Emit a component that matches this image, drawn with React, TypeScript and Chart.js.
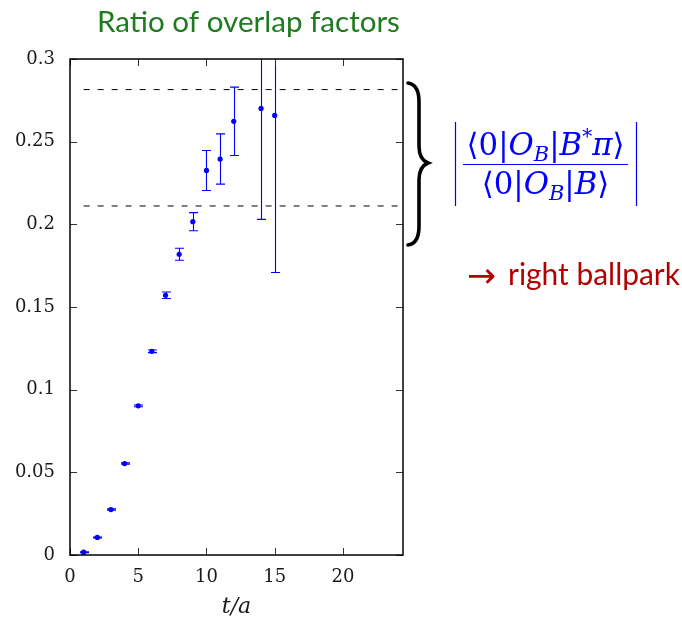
import React, { useEffect, useRef } from 'react';
import { Chart, registerables } from 'chart.js';

Chart.register(...registerables);

// ---- data ----
const tValues = [1, 2, 3, 4, 5, 6, 7, 8, 9, 10, 11, 12, 14, 15];
const ratioValues = [0.0017, 0.0106, 0.0275, 0.0553, 0.0902, 0.1232, 0.1571, 0.1819, 0.2016, 0.2326, 0.2395, 0.2623, 0.2701, 0.2659];
const ratioErrors = [0.0003, 0.0003, 0.0004, 0.0004, 0.0005, 0.0008, 0.002, 0.0036, 0.0055, 0.0121, 0.0152, 0.0207, 0.0671, 0.095];
const bandX = [1, 24];
const bandUpper = 0.2815;
const bandLower = 0.2111;
const xTicks = [0, 5, 10, 15, 20];
const yTicks = [0, 0.05, 0.1, 0.15, 0.2, 0.25, 0.3];
const xMin = 0;
const xMax = 24.4;
const yMin = 0;
const yMax = 0.3;
const titleText = 'Ratio of overlap factors';
const xAxisLabel = 't/a';
const noteArrow = '\u2192';
const noteText = 'right ballpark';

const BLUE = '#0000ff';
const GREEN = '#1e7b1e';
const RED = '#b30000';

function fitSize(ctx: CanvasRenderingContext2D, text: string, family: string, width: number, style = '') {
  ctx.font = `${style} 100px ${family}`;
  const w = ctx.measureText(text).width;
  return (100 * width) / w;
}

type Seg = { t: string; style: string; scale: number; dy: number; family: string };

function segsWidth(ctx: CanvasRenderingContext2D, segs: Seg[], base: number) {
  let w = 0;
  for (const s of segs) {
    ctx.font = `${s.style} ${base * s.scale}px ${s.family}`;
    w += ctx.measureText(s.t).width;
  }
  return w;
}

function drawSegs(ctx: CanvasRenderingContext2D, segs: Seg[], base: number, cx: number, baseline: number) {
  const w = segsWidth(ctx, segs, base);
  let x = cx - w / 2;
  ctx.textAlign = 'left';
  ctx.textBaseline = 'alphabetic';
  for (const s of segs) {
    ctx.font = `${s.style} ${base * s.scale}px ${s.family}`;
    ctx.fillText(s.t, x, baseline + s.dy * base);
    x += ctx.measureText(s.t).width;
  }
}

const SERIF = '"DejaVu Serif", serif';
const up = (t: string): Seg => ({ t, style: '', scale: 1, dy: 0, family: SERIF });
const it = (t: string): Seg => ({ t, style: 'italic', scale: 1, dy: 0, family: SERIF });
const sub = (t: string): Seg => ({ t, style: 'italic', scale: 0.68, dy: 0.18, family: SERIF });
const sup = (t: string): Seg => ({ t, style: '', scale: 0.65, dy: -0.38, family: SERIF });

const numerSegs: Seg[] = [up('\u27E80|'), it('O'), sub('B'), up('|'), it('B'), sup('*'), it('\u03C0'), up('\u27E9')];
const denomSegs: Seg[] = [up('\u27E80|'), it('O'), sub('B'), up('|'), it('B'), up('\u27E9')];

const overlayPlugin = {
  id: 'overlay',
  beforeDatasetsDraw(chart: any) {
    const { ctx, chartArea: a, scales } = chart;
    const x = scales.x;
    const y = scales.y;
    ctx.save();
    ctx.beginPath();
    ctx.rect(a.left, a.top, a.right - a.left, a.bottom - a.top);
    ctx.clip();
    ctx.strokeStyle = BLUE;
    ctx.lineWidth = 1.1;
    tValues.forEach((t, i) => {
      const px = Math.round(x.getPixelForValue(t)) + 0.5;
      const y1 = y.getPixelForValue(ratioValues[i] - ratioErrors[i]);
      const y2 = y.getPixelForValue(ratioValues[i] + ratioErrors[i]);
      ctx.beginPath();
      ctx.moveTo(px, y1);
      ctx.lineTo(px, y2);
      ctx.moveTo(px - 4.5, y1);
      ctx.lineTo(px + 4.5, y1);
      ctx.moveTo(px - 4.5, y2);
      ctx.lineTo(px + 4.5, y2);
      ctx.stroke();
    });
    ctx.restore();
  },
  afterDatasetsDraw(chart: any) {
    const { ctx, chartArea: a, scales } = chart;
    const x = scales.x;
    const y = scales.y;
    ctx.save();
    ctx.strokeStyle = '#333';
    ctx.lineWidth = 1;
    const tl = 7;
    ctx.beginPath();
    x.ticks.forEach((tk: any) => {
      const px = Math.round(x.getPixelForValue(tk.value)) + 0.5;
      ctx.moveTo(px, a.bottom);
      ctx.lineTo(px, a.bottom - tl);
      ctx.moveTo(px, a.top);
      ctx.lineTo(px, a.top + tl);
    });
    y.ticks.forEach((tk: any) => {
      const py = Math.round(y.getPixelForValue(tk.value)) + 0.5;
      ctx.moveTo(a.left, py);
      ctx.lineTo(a.left + tl, py);
      ctx.moveTo(a.right, py);
      ctx.lineTo(a.right - tl, py);
    });
    ctx.stroke();
    ctx.strokeStyle = '#000';
    ctx.lineWidth = 1.5;
    ctx.strokeRect(a.left, a.top, a.right - a.left, a.bottom - a.top);
    ctx.restore();
  },
  afterDraw(chart: any) {
    const { ctx, chartArea: a } = chart;
    ctx.save();
    // title
    const tSize = fitSize(ctx, titleText, 'Lato', 303);
    ctx.font = `${tSize}px Lato`;
    ctx.fillStyle = GREEN;
    ctx.textAlign = 'left';
    ctx.textBaseline = 'alphabetic';
    ctx.fillText(titleText, a.left + 27, 32);

    // brace
    const bx = a.right + 5;
    ctx.strokeStyle = '#000';
    ctx.lineWidth = 3.6;
    ctx.lineCap = 'round';
    ctx.beginPath();
    ctx.moveTo(bx, 83);
    ctx.bezierCurveTo(bx + 8, 84, bx + 11, 91, bx + 11, 102);
    ctx.lineTo(bx + 11, 146);
    ctx.bezierCurveTo(bx + 11, 156, bx + 15, 161, bx + 20, 163);
    ctx.bezierCurveTo(bx + 15, 165, bx + 11, 170, bx + 11, 180);
    ctx.lineTo(bx + 11, 226);
    ctx.bezierCurveTo(bx + 11, 237, bx + 8, 244, bx, 245);
    ctx.stroke();

    // formula
    ctx.fillStyle = BLUE;
    ctx.strokeStyle = BLUE;
    const w26 = segsWidth(ctx, numerSegs, 26);
    const base = (26 * 158) / w26;
    const cx = 545.5;
    drawSegs(ctx, numerSegs, base, cx, 155);
    drawSegs(ctx, denomSegs, base, cx, 194);
    ctx.lineWidth = 1.2;
    ctx.lineCap = 'butt';
    ctx.beginPath();
    ctx.moveTo(463, 164.5);
    ctx.lineTo(628, 164.5);
    ctx.moveTo(455.5, 122);
    ctx.lineTo(455.5, 206);
    ctx.moveTo(636.5, 122);
    ctx.lineTo(636.5, 206);
    ctx.stroke();

    // note
    ctx.fillStyle = RED;
    const aSize = fitSize(ctx, noteArrow, '"DejaVu Sans"', 29);
    ctx.font = `${aSize}px "DejaVu Sans"`;
    ctx.fillText(noteArrow, 467, 287);
    const nSize = fitSize(ctx, noteText, 'Lato', 172);
    ctx.font = `${nSize}px Lato`;
    ctx.fillText(noteText, 508, 285);
    ctx.restore();
  },
};

export default function App() {
  const ref = useRef<HTMLCanvasElement | null>(null);
  useEffect(() => {
    if (!ref.current) return;
    const chart = new Chart(ref.current, {
      type: 'scatter',
      data: {
        datasets: [
          {
            label: 'ratio',
            data: tValues.map((t, i) => ({ x: t, y: ratioValues[i] })),
            backgroundColor: BLUE,
            borderColor: BLUE,
            borderWidth: 0,
            pointRadius: 2.6,
            showLine: false,
          },
          {
            type: 'line',
            label: 'upper',
            data: bandX.map((v) => ({ x: v, y: bandUpper })),
            borderColor: '#000',
            borderWidth: 1,
            borderDash: [6, 8],
            pointRadius: 0,
            fill: false,
          },
          {
            type: 'line',
            label: 'lower',
            data: bandX.map((v) => ({ x: v, y: bandLower })),
            borderColor: '#000',
            borderWidth: 1,
            borderDash: [6, 8],
            pointRadius: 0,
            fill: false,
          },
        ] as any,
      },
      options: {
        responsive: false,
        animation: false,
        events: [],
        layout: { padding: { left: 0, right: 279, top: 59, bottom: 0 } },
        plugins: { legend: { display: false }, tooltip: { enabled: false } },
        scales: {
          x: {
            type: 'linear',
            min: xMin,
            max: xMax,
            afterBuildTicks: (s: any) => {
              s.ticks = xTicks.map((v) => ({ value: v }));
            },
            afterFit: (s: any) => {
              s.height = 63;
            },
            grid: { display: false, drawTicks: false },
            border: { display: false },
            ticks: {
              padding: 12,
              color: '#1a1a1a',
              font: { family: '"DejaVu Serif", serif', size: 18 },
              maxRotation: 0,
              autoSkip: false,
              callback: (v: any) => String(v),
            },
            title: {
              display: true,
              text: xAxisLabel,
              color: '#1a1a1a',
              font: { family: '"DejaVu Serif", serif', size: 22, style: 'italic', lineHeight: 1 },
              padding: { top: 0, bottom: 0 },
            },
          },
          y: {
            type: 'linear',
            min: yMin,
            max: yMax,
            afterBuildTicks: (s: any) => {
              s.ticks = yTicks.map((v) => ({ value: v }));
            },
            afterFit: (s: any) => {
              s.width = 70;
            },
            grid: { display: false, drawTicks: false },
            border: { display: false },
            ticks: {
              padding: 15,
              color: '#1a1a1a',
              font: { family: '"DejaVu Serif", serif', size: 18 },
              autoSkip: false,
              callback: (v: any) => String(parseFloat(Number(v).toFixed(2))),
            },
          },
        },
      },
      plugins: [overlayPlugin],
    } as any);
    return () => chart.destroy();
  }, []);
  return (
    <div style={{ position: 'absolute', left: 0, top: 0, width: 682, height: 618 }}>
      <canvas ref={ref} width={682} height={618} style={{ display: 'block' }} />
    </div>
  );
}
